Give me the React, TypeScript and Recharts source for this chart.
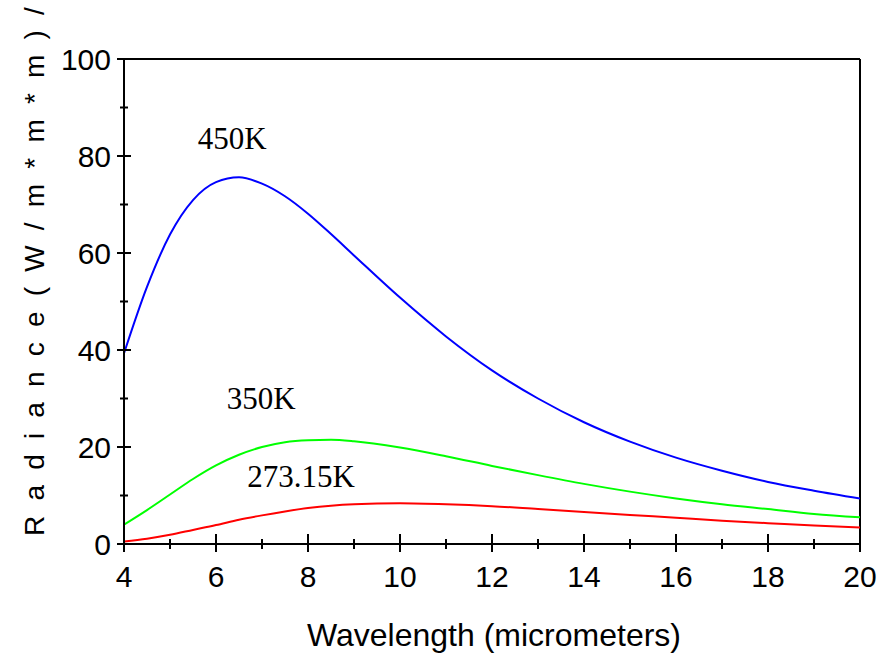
import React from 'react';
import { LineChart, Line, XAxis, YAxis, ReferenceLine, ReferenceDot, Label } from 'recharts';

// Wavelength samples (micrometers)
const wavelengths = [4, 4.5, 5, 5.5, 6, 6.5, 7, 7.5, 8, 8.5, 9, 10, 11, 12, 13, 14, 15, 16, 17, 18, 19, 20];

// Spectral radiance for each temperature
const radiance450 = [39.3, 53.0, 63.8, 70.9, 74.6, 75.6, 74.3, 71.7, 68.1, 63.9, 59.5, 50.8, 42.8, 35.8, 30.0, 25.1, 21.1, 17.8, 15.1, 12.8, 11.0, 9.4];
const radiance350 = [4.0, 7.0, 10.2, 13.4, 16.2, 18.4, 20.0, 21.0, 21.4, 21.5, 21.2, 19.9, 18.1, 16.1, 14.2, 12.4, 10.8, 9.4, 8.2, 7.2, 6.2, 5.5];
const radiance273 = [0.5, 1.1, 1.9, 2.9, 3.9, 5.0, 5.9, 6.7, 7.4, 7.9, 8.2, 8.4, 8.2, 7.8, 7.2, 6.6, 6.0, 5.4, 4.8, 4.3, 3.8, 3.4];

// Axis ticks (minor + major)
const xTicks = [4, 5, 6, 7, 8, 9, 10, 11, 12, 13, 14, 15, 16, 17, 18, 19, 20];
const yTicks = [0, 10, 20, 30, 40, 50, 60, 70, 80, 90, 100];

// Curve annotations: [text, wavelength, radiance]
const curveLabels: [string, number, number][] = [
  ['450K', 6.35, 83.7],
  ['350K', 6.98, 30.1],
  ['273.15K', 7.85, 14.0],
];

const data = wavelengths.map((w, i) => ({
  w,
  t450: radiance450[i],
  t350: radiance350[i],
  t273: radiance273[i],
}));

const sans = '"Liberation Sans", Arial, sans-serif';
const serif = '"Liberation Serif", "Times New Roman", serif';

const XTick = (props: any) => {
  const { x, y, payload } = props;
  const v = payload.value as number;
  const major = v % 2 === 0;
  return (
    <g>
      <line x1={x} x2={x} y1={major ? y - 10 : y - 5} y2={major ? y + 8 : y + 5} stroke="#000" strokeWidth={2} />
      {major && (
        <text x={x} y={y + 43} textAnchor="middle" fontFamily={sans} fontSize={30} fill="#000">
          {v}
        </text>
      )}
    </g>
  );
};

const YTick = (props: any) => {
  const { x, y, payload } = props;
  const v = payload.value as number;
  const major = v % 20 === 0;
  return (
    <g>
      <line x1={major ? x - 7 : x - 4} x2={major ? x + 7 : x + 4} y1={y} y2={y} stroke="#000" strokeWidth={2} />
      {major && (
        <text x={x - 13} y={y + 11} textAnchor="end" fontFamily={sans} fontSize={30} fill="#000">
          {v}
        </text>
      )}
    </g>
  );
};

const YTitle = () => (
  <text
    x={44}
    y={536}
    transform="rotate(-90 44 536)"
    textAnchor="start"
    fontFamily={sans}
    fontSize={28}
    letterSpacing={3.7}
    fill="#000"
    style={{ whiteSpace: 'pre' }}
  >
    {'R a d i a n c e ( W / m * m * m ) /'}
  </text>
);

const XTitle = (props: any) => {
  const vb = props.viewBox || {};
  return (
    <text x={vb.x + vb.width / 2 + 2} y={646} textAnchor="middle" fontFamily={sans} fontSize={32} fill="#000">
      Wavelength (micrometers)
    </text>
  );
};

export default function App() {
  return (
    <div style={{ position: 'absolute', left: 0, top: 0, background: '#fff' }}>
      <LineChart width={886} height={658} data={data} margin={{ top: 59, right: 26, bottom: 34, left: 64 }}>
        <XAxis
          dataKey="w"
          type="number"
          domain={[4, 20]}
          ticks={xTicks}
          interval={0}
          tickSize={0}
          tickMargin={0}
          tickLine={false}
          tick={<XTick />}
          height={80}
          axisLine={{ stroke: '#000', strokeWidth: 2 }}
          allowDataOverflow
        >
          <Label content={<XTitle />} />
        </XAxis>
        <YAxis
          type="number"
          domain={[0, 100]}
          ticks={yTicks}
          interval={0}
          tickSize={0}
          tickMargin={0}
          tickLine={false}
          tick={<YTick />}
          width={60}
          axisLine={{ stroke: '#000', strokeWidth: 2 }}
          allowDataOverflow
        >
          <Label content={<YTitle />} />
        </YAxis>
        <ReferenceLine y={100} stroke="#000" strokeWidth={2} />
        <ReferenceLine x={20} stroke="#000" strokeWidth={2} />
        <Line type="monotone" dataKey="t450" stroke="#0000ff" strokeWidth={2} dot={false} isAnimationActive={false} />
        <Line type="monotone" dataKey="t350" stroke="#00ff00" strokeWidth={2} dot={false} isAnimationActive={false} />
        <Line type="monotone" dataKey="t273" stroke="#ff0000" strokeWidth={2} dot={false} isAnimationActive={false} />
        {curveLabels.map(([text, w, r]) => (
          <ReferenceDot
            key={text}
            x={w}
            y={r}
            r={0}
            fill="none"
            stroke="none"
            ifOverflow="visible"
            label={{ value: text, position: 'center', fontFamily: serif, fontSize: 31, fill: '#000' }}
          />
        ))}
      </LineChart>
    </div>
  );
}
